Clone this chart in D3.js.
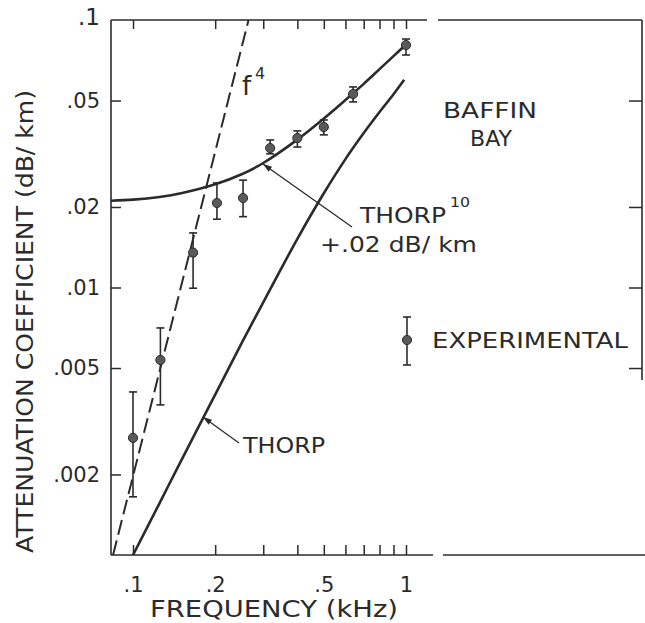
<!DOCTYPE html>
<html>
<head>
<meta charset="utf-8">
<script src="https://cdn.jsdelivr.net/npm/d3@7"></script>
<style>
  html, body { margin: 0; padding: 0; background: #fff; }
  svg { display: block; }
  text { font-family: "DejaVu Sans", "Liberation Sans", sans-serif; fill: #2b2b2b; }
</style>
</head>
<body>
<svg id="chart" width="645" height="623"></svg>
<script>
// ---------------- data ----------------
const expFreq  = [0.1, 0.126, 0.166, 0.203, 0.253, 0.318, 0.40, 0.50, 0.64, 1.0];
const expAtten = [0.00274, 0.00536, 0.0135, 0.0207, 0.0216, 0.0332, 0.0362, 0.0398, 0.0529, 0.0806];
const expHigh  = [0.00407, 0.00706, 0.0160, 0.0246, 0.0252, 0.0356, 0.0385, 0.0423, 0.0562, 0.0849];
const expLow   = [0.00165, 0.00364, 0.00994, 0.0180, 0.0184, 0.0316, 0.0335, 0.0372, 0.0494, 0.0740];

const thorpFreq  = [0.1, 0.125, 0.15, 0.2, 0.25, 0.3, 0.4, 0.5, 0.6, 0.7, 0.8, 0.9, 0.985];
const thorpAtten = [0.00100, 0.00156, 0.00225, 0.00398, 0.0062, 0.0088, 0.0152, 0.0225, 0.0302, 0.0378, 0.0453, 0.0528, 0.0598];

const thorpPlusFreq  = [0.083, 0.1, 0.125, 0.15, 0.2, 0.25, 0.3, 0.4, 0.5, 0.6, 0.7, 0.8, 0.9, 1.0];
const thorpPlusAtten = [0.0211, 0.0213, 0.0218, 0.0225, 0.0243, 0.0265, 0.0292, 0.0357, 0.0428, 0.0502, 0.0577, 0.0655, 0.0733, 0.0810];

const f4Freq  = [0.0845, 0.265];
const f4Atten = [0.001, 0.1];

const xTickValues = [0.1, 0.2, 0.3, 0.4, 0.5, 0.6, 0.7, 0.8, 0.9, 1.0];
const xTickLabels = [".1", ".2", "", "", ".5", "", "", "", "", "1"];
const yTickValues = [0.1, 0.05, 0.02, 0.01, 0.005, 0.002];
const yTickLabels = [".1", ".05", ".02", ".01", ".005", ".002"];

// ---------------- layout ----------------
const svg = d3.select("#chart");
const L = 111, T = 20, B = 555, R = 642;

const x = d3.scaleLog().domain([0.1, 1]).range([133, 406]);
const y = d3.scaleLog().domain([0.001, 0.1]).range([B, T]);

const ink = "#2b2b2b";

// ---------------- axes (inward ticks) ----------------
const xLabelMap = new Map(xTickValues.map((v, i) => [v, xTickLabels[i]]));
const yLabelMap = new Map(yTickValues.map((v, i) => [v, yTickLabels[i]]));

const gBottom = svg.append("g").attr("transform", `translate(0,${B})`)
  .call(d3.axisBottom(x).tickValues(xTickValues).tickSize(-10).tickPadding(22)
        .tickFormat(d => xLabelMap.get(d)));
const gTop = svg.append("g").attr("transform", `translate(0,${T})`)
  .call(d3.axisTop(x).tickValues(xTickValues).tickSize(-9).tickFormat(() => ""));
const gLeft = svg.append("g").attr("transform", `translate(${L},0)`)
  .call(d3.axisLeft(y).tickValues(yTickValues.filter(v => v < 0.1)).tickSize(-10).tickPadding(11)
        .tickFormat(d => yLabelMap.get(d)));
const gRight = svg.append("g").attr("transform", `translate(${R},0)`)
  .call(d3.axisRight(y).tickValues([0.05, 0.02, 0.01, 0.005]).tickSize(-13).tickFormat(() => ""));

[gBottom, gTop, gLeft, gRight].forEach(g => {
  g.select(".domain").remove();
  g.selectAll(".tick line").attr("stroke", ink).attr("stroke-width", 1.5);
  g.selectAll(".tick text").attr("fill", ink).style("font-size", "21px")
    .style("font-family", "'DejaVu Sans', sans-serif");
});
// ".1" label at the top-left corner
svg.append("text").attr("x", L - 11).attr("y", y(0.1)).attr("dy", "0.2em")
  .attr("text-anchor", "end").style("font-size", "23px").text(yLabelMap.get(0.1));

// ---------------- frame (with the paste gaps of the original) ----------------
const frame = [
  [L, T, L, B],
  [L, B, 433, B], [443, B, 645, B],
  [L, T, 427, T], [438, T, R, T],
  [R, T, R, 380]
];
svg.append("g").selectAll("line").data(frame).join("line")
  .attr("x1", d => d[0]).attr("y1", d => d[1]).attr("x2", d => d[2]).attr("y2", d => d[3])
  .attr("stroke", ink).attr("stroke-width", 1.6);

// ---------------- curves ----------------
svg.append("clipPath").attr("id", "plotclip")
  .append("rect").attr("x", L).attr("y", T).attr("width", R - L).attr("height", B - T);

const line = d3.line().x(d => x(d[0])).y(d => y(d[1])).curve(d3.curveCatmullRom.alpha(0.5));
const gCurves = svg.append("g").attr("clip-path", "url(#plotclip)");

gCurves.append("path").datum(d3.zip(thorpFreq, thorpAtten))
  .attr("d", line).attr("fill", "none").attr("stroke", ink).attr("stroke-width", 2.6);
gCurves.append("path").datum(d3.zip(thorpPlusFreq, thorpPlusAtten))
  .attr("d", line).attr("fill", "none").attr("stroke", ink).attr("stroke-width", 2.6);
gCurves.append("path").datum(d3.zip(f4Freq, f4Atten))
  .attr("d", d3.line().x(d => x(d[0])).y(d => y(d[1])))
  .attr("fill", "none").attr("stroke", ink).attr("stroke-width", 2)
  .attr("stroke-dasharray", "15,6");

// ---------------- experimental points with error bars ----------------
const exp = expFreq.map((f, i) => ({ f, v: expAtten[i], hi: expHigh[i], lo: expLow[i] }));
const gExp = svg.append("g");
const cap = 4;
gExp.selectAll(".stem").data(exp).join("line")
  .attr("x1", d => x(d.f)).attr("x2", d => x(d.f))
  .attr("y1", d => y(d.hi)).attr("y2", d => y(d.lo))
  .attr("stroke", ink).attr("stroke-width", 1.6);
gExp.selectAll(".capHi").data(exp).join("line")
  .attr("x1", d => x(d.f) - cap).attr("x2", d => x(d.f) + cap)
  .attr("y1", d => y(d.hi)).attr("y2", d => y(d.hi))
  .attr("stroke", ink).attr("stroke-width", 1.6);
gExp.selectAll(".capLo").data(exp).join("line")
  .attr("x1", d => x(d.f) - cap).attr("x2", d => x(d.f) + cap)
  .attr("y1", d => y(d.lo)).attr("y2", d => y(d.lo))
  .attr("stroke", ink).attr("stroke-width", 1.6);
gExp.selectAll("circle").data(exp).join("circle")
  .attr("cx", d => x(d.f)).attr("cy", d => y(d.v)).attr("r", 4.6)
  .attr("fill", "#5a5a5a").attr("stroke", ink).attr("stroke-width", 1);

// ---------------- annotations ----------------
function arrow(x1, y1, x2, y2) {
  svg.append("line").attr("x1", x1).attr("y1", y1).attr("x2", x2).attr("y2", y2)
    .attr("stroke", ink).attr("stroke-width", 1.3);
  const a = Math.atan2(y2 - y1, x2 - x1), len = 9, w = 3;
  const bx = x2 - len * Math.cos(a), by = y2 - len * Math.sin(a);
  const pts = [[x2, y2], [bx - w * Math.sin(a), by + w * Math.cos(a)], [bx + w * Math.sin(a), by - w * Math.cos(a)]];
  svg.append("path").attr("d", "M" + pts.map(p => p.join(",")).join("L") + "Z").attr("fill", ink);
}
arrow(352, 227, 263, 164);
arrow(239, 443, 203, 417);

function label(txt, xx, yy, size, len, anchor) {
  const t = svg.append("text").attr("x", xx).attr("y", yy).style("font-size", size + "px")
    .attr("text-anchor", anchor || "start").text(txt);
  if (len) t.attr("textLength", len).attr("lengthAdjust", "spacingAndGlyphs");
  return t;
}
label("f", 242, 95, 26);
label("4", 255, 79, 16);
label("BAFFIN", 443, 118, 22, 94);
label("BAY", 470, 146, 22, 42);
label("THORP", 360, 223, 22, 86);
label("10", 450, 207, 14, 20);
label("+.02 dB/ km", 320, 252, 22, 157);
label("THORP", 243, 453, 22, 82);
label("EXPERIMENTAL", 432, 348, 22, 196);

// legend symbol
const lgX = 407;
svg.append("line").attr("x1", lgX).attr("x2", lgX).attr("y1", 317).attr("y2", 365).attr("stroke", ink).attr("stroke-width", 1.6);
svg.append("line").attr("x1", lgX - cap).attr("x2", lgX + cap).attr("y1", 317).attr("y2", 317).attr("stroke", ink).attr("stroke-width", 1.6);
svg.append("line").attr("x1", lgX - cap).attr("x2", lgX + cap).attr("y1", 365).attr("y2", 365).attr("stroke", ink).attr("stroke-width", 1.6);
svg.append("circle").attr("cx", lgX).attr("cy", 340).attr("r", 4.6).attr("fill", "#5a5a5a").attr("stroke", ink);

// axis titles
label("FREQUENCY (kHz)", 150, 617, 23, 248);
svg.append("text").attr("transform", "translate(33,553) rotate(-90)")
  .style("font-size", "23px").attr("textLength", 463).attr("lengthAdjust", "spacingAndGlyphs")
  .text("ATTENUATION COEFFICIENT (dB/ km)");
</script>
</body>
</html>
